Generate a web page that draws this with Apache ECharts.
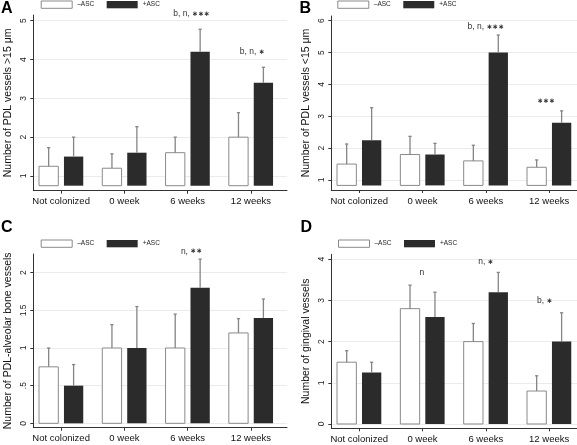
<!DOCTYPE html>
<html><head><meta charset="utf-8">
<script src="https://cdn.jsdelivr.net/npm/echarts@6/dist/echarts.min.js"></script>
<style>html,body{margin:0;padding:0;background:#fff}#c{width:577px;height:445px}</style>
</head><body><div id="c"></div>
<script>
// ---------- data ----------
const categories = ['Not colonized', '0 week', '6 weeks', '12 weeks'];
const seriesNames = ['–ASC', '+ASC'];

// Panel A: PDL vessels >15 µm
const aMinus = [1.25, 1.2, 1.6, 2.0];
const aMinusUpper = [1.73, 1.57, 2.0, 2.63];
const aPlus = [1.5, 1.6, 4.2, 3.4];
const aPlusUpper = [2.0, 2.27, 4.78, 3.8];
const aTicks = [1, 2, 3, 4, 5];
const aTickLabels = ['1', '2', '3', '4', '5'];
const aNotes = ['b, n, ***', 'b, n, *'];
const aNoteX = [2.06, 3.02];
const aNoteY = [5.17, 4.19];

// Panel B: PDL vessels <15 µm
const bMinus = [1.5, 1.8, 1.6, 1.4];
const bMinusUpper = [2.13, 2.37, 2.09, 1.63];
const bPlus = [2.25, 1.8, 5.0, 2.8];
const bPlusUpper = [3.27, 2.15, 5.55, 3.17];
const bTicks = [1, 2, 3, 4, 5, 6];
const bTickLabels = ['1', '2', '3', '4', '5', '6'];
const bNotes = ['b, n, ***', '***'];
const bNoteX = [2.0, 2.95];
const bNoteY = [5.81, 3.46];

// Panel C: PDL-alveolar bone vessels
const cMinus = [0.75, 1.0, 1.0, 1.2];
const cMinusUpper = [1.0, 1.31, 1.45, 1.39];
const cPlus = [0.5, 1.0, 1.8, 1.4];
const cPlusUpper = [0.78, 1.55, 2.18, 1.65];
const cTicks = [0, 0.5, 1, 1.5, 2];
const cTickLabels = ['0', '.5', '1', '1.5', '2'];
const cNotes = ['n, **'];
const cNoteX = [2.06];
const cNoteY = [2.28];

// Panel D: gingival vessels
const dMinus = [1.5, 2.8, 2.0, 0.8];
const dMinusUpper = [1.78, 3.37, 2.44, 1.17];
const dPlus = [1.25, 2.6, 3.2, 2.0];
const dPlusUpper = [1.5, 3.2, 3.68, 2.7];
const dTicks = [0, 1, 2, 3, 4];
const dTickLabels = ['0', '1', '2', '3', '4'];
const dNotes = ['n', 'n, *', 'b, *'];
const dNoteX = [0.99, 2.0, 2.93];
const dNoteY = [3.67, 3.94, 2.99];

const yTitles = ['Number of PDL vessels >15 μm', 'Number of PDL vessels <15 μm',
                 'Number of PDL-alveolar bone vessels', 'Number of gingival vessels'];
const letters = ['A', 'B', 'C', 'D'];

// ---------- layout / style ----------
const FONT = '"Liberation Sans", Arial, Helvetica, sans-serif';
const panels = [
  { minus: aMinus, minusUp: aMinusUpper, plus: aPlus, plusUp: aPlusUpper, ticks: aTicks, tickLabels: aTickLabels,
    notes: aNotes, noteX: aNoteX, noteY: aNoteY,
    grid: { left: 33.3, top: 15, width: 253.7, height: 175.7 }, x: [-0.44, 3.57], y: [0.621, 5.147], base: 0.75,
    legend: { left: 40.7, top: 0.5 }, title: { left: 1, top: 1 } },
  { minus: bMinus, minusUp: bMinusUpper, plus: bPlus, plusUp: bPlusUpper, ticks: bTicks, tickLabels: bTickLabels,
    notes: bNotes, noteX: bNoteX, noteY: bNoteY,
    grid: { left: 331.3, top: 16, width: 245.7, height: 174 }, x: [-0.44, 3.44], y: [0.686, 6.148], base: 0.83,
    legend: { left: 337.3, top: 0.5 }, title: { left: 299.5, top: 0.5 } },
  { minus: cMinus, minusUp: cMinusUpper, plus: cPlus, plusUp: cPlusUpper, ticks: cTicks, tickLabels: cTickLabels,
    notes: cNotes, noteX: cNoteX, noteY: cNoteY,
    grid: { left: 33.3, top: 254, width: 253.7, height: 173.7 }, x: [-0.44, 3.57], y: [-0.058, 2.248], base: 0,
    legend: { left: 40.7, top: 239.5 }, title: { left: 1, top: 220 } },
  { minus: dMinus, minusUp: dMinusUpper, plus: dPlus, plusUp: dPlusUpper, ticks: dTicks, tickLabels: dTickLabels,
    notes: dNotes, noteX: dNoteX, noteY: dNoteY,
    grid: { left: 331.3, top: 254.3, width: 245.7, height: 174 }, x: [-0.44, 3.44], y: [-0.105, 4.12], base: 0,
    legend: { left: 338, top: 239.5 }, title: { left: 300.5, top: 220 } }
];

const AXIS = '#333';
const WHITE_FILL = '#ffffff', WHITE_STROKE = '#8a8a8a', BLACK_FILL = '#2b2b2b', ERR = '#858585';

function barRenderer(side, base, fill, stroke) {
  return function (params, api) {
    const cat = api.value(0), v = api.value(1), up = api.value(2);
    const unit = api.size([1, 0])[0];
    const top = api.coord([cat, v]);
    const bot = api.coord([cat, base]);
    const cap = api.coord([cat, up]);
    const w = unit * 0.305;
    const cx = top[0] + side * unit * 0.197;
    return {
      type: 'group',
      children: [
        { type: 'rect', shape: { x: cx - w / 2, y: top[1], width: w, height: bot[1] - top[1] },
          style: { fill: fill, stroke: stroke, lineWidth: stroke ? 1 : 0 } },
        { type: 'line', shape: { x1: cx, y1: top[1], x2: cx, y2: cap[1] }, style: { stroke: ERR, lineWidth: 1.3 } },
        { type: 'line', shape: { x1: cx - 1.6, y1: cap[1], x2: cx + 1.6, y2: cap[1] }, style: { stroke: ERR, lineWidth: 1.3 } }
      ]
    };
  };
}

function noteRenderer(texts) {
  return function (params, api) {
    const p = api.coord([api.value(0), api.value(1)]);
    const t = texts[params.dataIndex].replace(/\*+/g, m => '{s|' + '∗'.repeat(m.length) + '}');
    return {
      type: 'text', x: p[0], y: p[1],
      style: { text: t, align: 'center', verticalAlign: 'middle', fill: '#333', fontSize: 8.5, fontFamily: FONT,
        rich: { s: { fontFamily: '"DejaVu Sans"', fontSize: 7, fontWeight: 'bold', fill: '#333' } } }
    };
  };
}

const option = { animation: false, textStyle: { fontFamily: FONT },
  title: [], legend: [], grid: [], xAxis: [], yAxis: [], series: [] };

panels.forEach((p, i) => {
  option.title.push({ text: letters[i], left: p.title.left, top: p.title.top, padding: 0,
    textStyle: { fontSize: 16, fontWeight: 'bold', color: '#000', fontFamily: FONT } });
  option.legend.push({ left: p.legend.left, top: p.legend.top, padding: 0, itemWidth: 31, itemHeight: 7.3, itemGap: 12.5,
    icon: 'rect', selectedMode: false, textStyle: { fontSize: 6.5, color: '#222', fontFamily: FONT },
    data: [ { name: seriesNames[0], itemStyle: { color: WHITE_FILL, borderColor: WHITE_STROKE, borderWidth: 1 } },
            { name: seriesNames[1], itemStyle: { color: BLACK_FILL, borderWidth: 0 } } ] });
  option.grid.push(Object.assign({ containLabel: false }, p.grid));
  option.xAxis.push({ gridIndex: i, type: 'value', min: p.x[0], max: p.x[1],
    axisLine: { show: true, onZero: false, lineStyle: { color: AXIS, width: 1 } },
    axisTick: { show: true, customValues: [0, 1, 2, 3], length: 3, lineStyle: { color: AXIS } },
    axisLabel: { customValues: [0, 1, 2, 3], formatter: v => categories[Math.round(v)], fontSize: 9.5, color: '#111', margin: 6 },
    splitLine: { show: false } });
  const ticks = p.ticks, labels = p.tickLabels;
  option.yAxis.push({ gridIndex: i, type: 'value', min: p.y[0], max: p.y[1],
    name: yTitles[i], nameLocation: 'middle', nameGap: 20, nameRotate: 90,
    nameTextStyle: { fontSize: 10.5, color: '#111', fontFamily: FONT },
    axisLine: { show: true, onZero: false, lineStyle: { color: AXIS, width: 1 } },
    axisTick: { show: true, customValues: ticks, length: 3, lineStyle: { color: AXIS } },
    axisLabel: { customValues: ticks, rotate: 90, fontSize: 8.5, color: '#222', margin: 5,
      formatter: v => { const k = ticks.findIndex(t => Math.abs(t - v) < 1e-9); return k >= 0 ? labels[k] : ''; } },
    splitLine: { show: true, lineStyle: { color: '#ebebeb', width: 1 } } });
  option.series.push({ type: 'custom', name: seriesNames[0], xAxisIndex: i, yAxisIndex: i, clip: false,
    itemStyle: { color: WHITE_FILL, borderColor: WHITE_STROKE },
    data: p.minus.map((v, k) => [k, v, p.minusUp[k]]), encode: { x: 0, y: [1, 2] },
    renderItem: barRenderer(-1, p.base, WHITE_FILL, WHITE_STROKE) });
  option.series.push({ type: 'custom', name: seriesNames[1], xAxisIndex: i, yAxisIndex: i, clip: false,
    itemStyle: { color: BLACK_FILL },
    data: p.plus.map((v, k) => [k, v, p.plusUp[k]]), encode: { x: 0, y: [1, 2] },
    renderItem: barRenderer(1, p.base, BLACK_FILL, null) });
  option.series.push({ type: 'custom', xAxisIndex: i, yAxisIndex: i, clip: false, silent: true,
    data: p.notes.map((t, k) => [p.noteX[k], p.noteY[k]]), encode: { x: 0, y: 1 },
    renderItem: noteRenderer(p.notes) });
});

const chart = echarts.init(document.getElementById('c'), null, { renderer: 'canvas' });
chart.setOption(option);
</script>
</body></html>
